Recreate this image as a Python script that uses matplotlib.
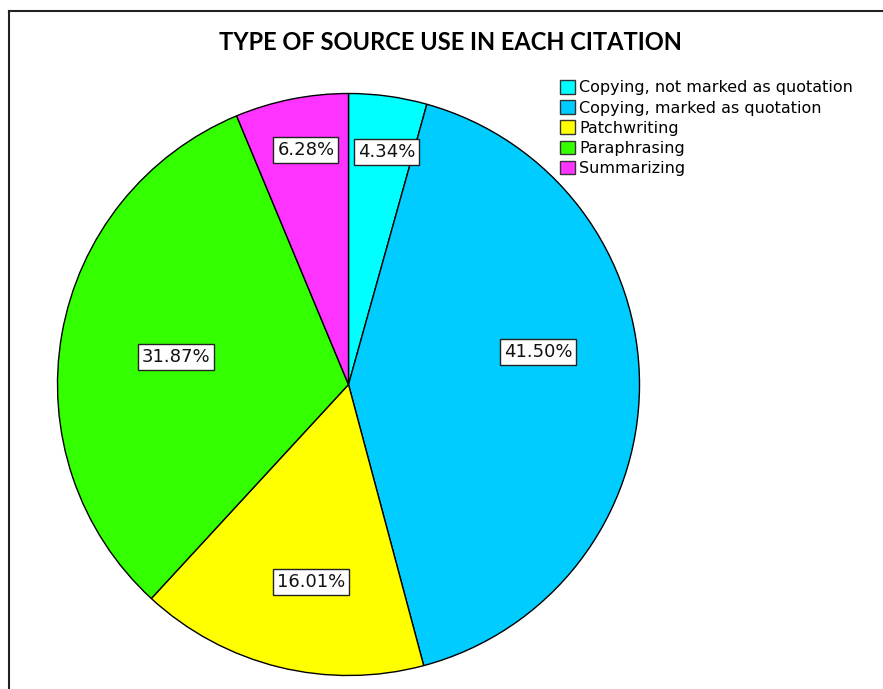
import numpy as np
import matplotlib
matplotlib.use("Agg")
import matplotlib.pyplot as plt
from matplotlib.lines import Line2D
from matplotlib.patches import Patch

# slice data, clockwise from 12 o'clock
categories = [
    "Copying, not marked as quotation",
    "Copying, marked as quotation",
    "Patchwriting",
    "Paraphrasing",
    "Summarizing",
]
shares = [4.34, 41.50, 16.01, 31.87, 6.28]
colors = ["#00FFFF", "#00CCFF", "#FFFF00", "#33FF00", "#FF33FF"]

# label placement tweaks (fraction of radius, degrees of rotation off the mid angle)
label_dist = [0.81, 0.66, 0.69, 0.60, 0.82]
label_shift = [-1.5, 10.0, 3.0, 1.0, -1.0]

W, H = 883, 689
fig = plt.figure(figsize=(W / 100, H / 100), dpi=100)

cx, cy, r = 348.5, 384.5, 291
ax = fig.add_axes([(cx - r) / W, (H - cy - r) / H, 2 * r / W, 2 * r / H])

wedges, _ = ax.pie(shares, colors=colors, startangle=90, counterclock=False,
                   radius=1, wedgeprops=dict(edgecolor="black", linewidth=1.0))
ax.set_xlim(-1, 1)
ax.set_ylim(-1, 1)
ax.set_aspect("equal")
ax.axis("off")

for w, val, d, s in zip(wedges, shares, label_dist, label_shift):
    ang = np.deg2rad((w.theta1 + w.theta2) / 2 + s)
    ax.text(d * np.cos(ang), d * np.sin(ang), f"{val:.2f}%",
            ha="center", va="center", fontsize=13, color="#111111",
            bbox=dict(boxstyle="square,pad=0.22", fc="white", ec="#222222", lw=1.0))

fig.text(450 / W, 1 - 42 / H, "TYPE OF SOURCE USE IN EACH CITATION",
         ha="center", va="center", fontsize=17, fontweight="bold", family="Lato")

handles = [Patch(facecolor=c, edgecolor="#333333", linewidth=1.0) for c in colors]
fig.legend(handles, categories, loc="upper left", bbox_to_anchor=(560 / W, 1 - 80 / H),
           frameon=False, fontsize=11.5, handlelength=0.95, handleheight=0.95,
           handletextpad=0.25, labelspacing=0.3, borderaxespad=0, borderpad=0)

# page frame (top and left edges only)
fig.add_artist(Line2D([9 / W, 1], [1 - 11 / H, 1 - 11 / H], color="#222222", lw=1.5))
fig.add_artist(Line2D([9 / W, 9 / W], [0, 1 - 11 / H], color="#222222", lw=1.5))

fig.savefig("out.png", dpi=100)
